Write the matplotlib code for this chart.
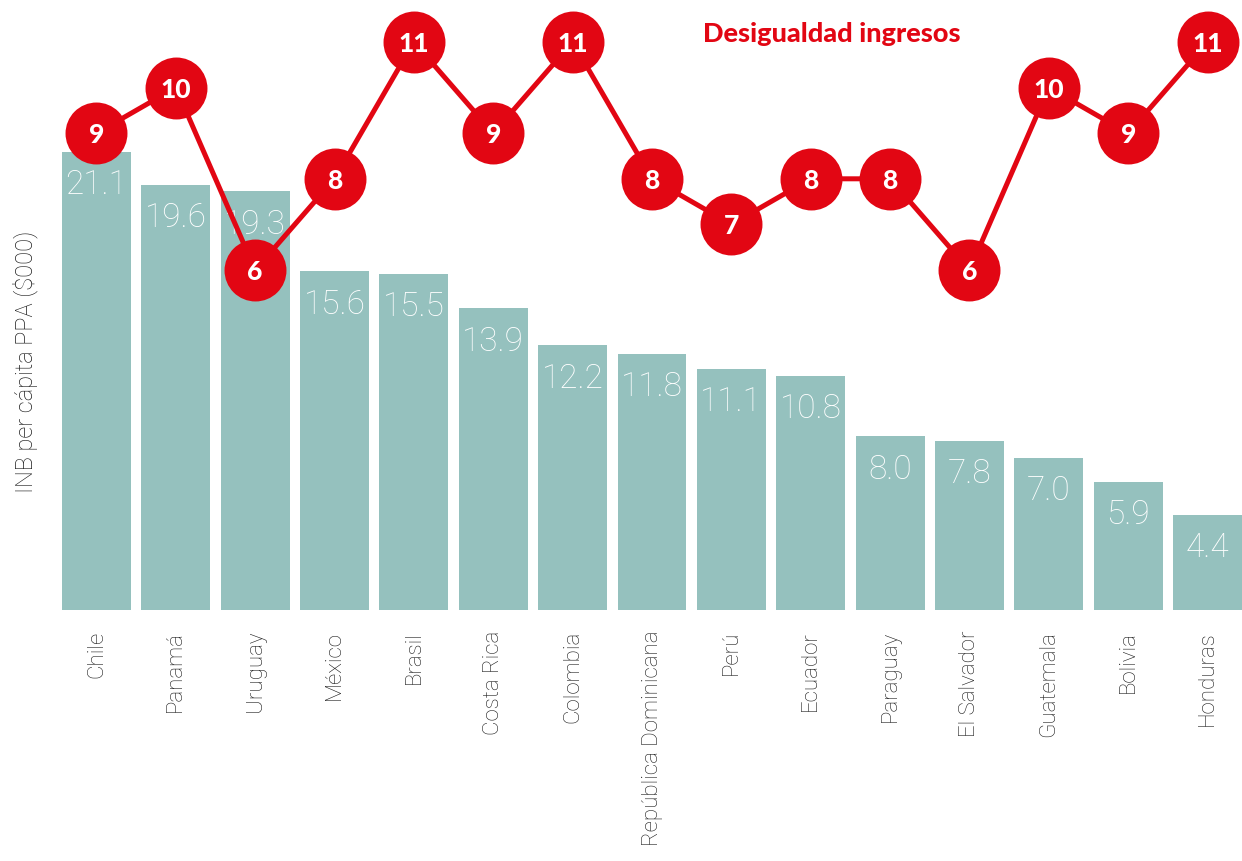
import numpy as np
import matplotlib
matplotlib.use("Agg")
import matplotlib.pyplot as plt

paises = ["Chile", "Panamá", "Uruguay", "México", "Brasil", "Costa Rica", "Colombia",
          "República Dominicana", "Perú", "Ecuador", "Paraguay", "El Salvador",
          "Guatemala", "Bolivia", "Honduras"]
inb = [21.1, 19.6, 19.3, 15.6, 15.5, 13.9, 12.2, 11.8, 11.1, 10.8, 8.0, 7.8, 7.0, 5.9, 4.4]
desigualdad = [9, 10, 6, 8, 11, 9, 11, 8, 7, 8, 8, 6, 10, 9, 11]

teal = "#95c1be"
red = "#e20613"

W, H = 1242, 861
fig = plt.figure(figsize=(W / 100, H / 100), dpi=100)
ax = fig.add_axes([62 / W, (H - 610) / H, 1180 / W, 610 / H])

x = np.arange(len(paises))
bw = 0.868
ax.bar(x, inb, width=bw, color=teal, zorder=1)
ax.set_xlim(-bw / 2, len(paises) - 1 + bw / 2)
ax.set_ylim(0, 610 / 21.7)

for xi, v in zip(x, inb):
    ax.text(xi, v - 1.95, f"{v:.1f}", ha="center", va="baseline", color="white",
            fontsize=24, family="Roboto", fontweight="light", zorder=2)

for s in ax.spines.values():
    s.set_visible(False)
ax.set_yticks([])
ax.set_xticks(x)
ax.set_xticklabels(paises, rotation=90, fontsize=16, family="Roboto", fontweight="light",
                   color="#1e1e1e", va="top")
ax.tick_params(axis="x", length=0, pad=15)

fig.text(25 / W, 1 - 362 / H, "INB per cápita PPA ($000)", rotation=90, ha="center",
         va="center", fontsize=17, family="Roboto", fontweight="light", color="#1e1e1e")

# inequality line on its own scale
ax2 = ax.twinx()
ax2.set_ylim(6 - 340 / 45.6, 6 + 270 / 45.6)
ax2.set_yticks([])
for s in ax2.spines.values():
    s.set_visible(False)
ax2.plot(x, desigualdad, color=red, lw=3.6, zorder=3,
         marker="o", markersize=44.6, markerfacecolor=red, markeredgewidth=0)
for xi, v in zip(x, desigualdad):
    ax2.text(xi, v, str(v), ha="center", va="center_baseline", color="white",
             fontsize=19, family="Lato", fontweight="black", zorder=4)

fig.text(832 / W, 1 - 34 / H, "Desigualdad ingresos", ha="center", va="center",
         fontsize=19.5, family="Lato", fontweight="black", color=red)

fig.savefig("out.png", dpi=100)
